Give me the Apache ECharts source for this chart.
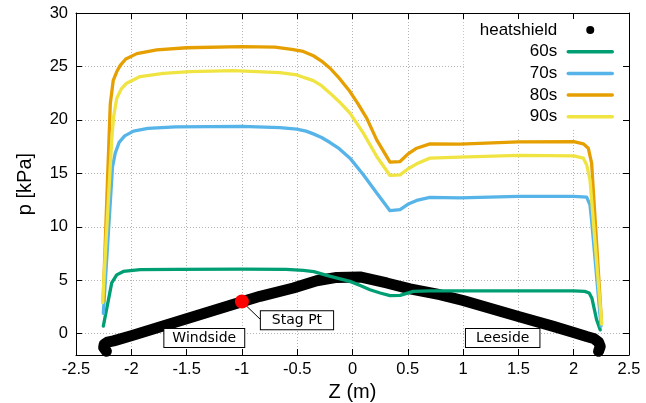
<!DOCTYPE html>
<html><head><meta charset="utf-8">
<script src="https://cdn.jsdelivr.net/npm/echarts@6/dist/echarts.min.js"></script>
<style>html,body{margin:0;padding:0;background:#fff}#c{width:646px;height:403px}</style>
</head><body><div id="c"></div>
<script>
// ---- data ----
const shieldZ = [-2.225, -2.25, -2.245, -2.215, -2.16, -2.0, -1.5, -1.0, -0.836, -0.535, -0.324, -0.143, 0.068, 0.309, 0.52, 0.79, 1.0, 1.5, 1.816, 2.0, 2.117, 2.18, 2.225, 2.24, 2.225];
const shieldP = [-1.65, -1.3, -1.0, -0.8, -0.68, -0.2, 1.4, 2.98, 3.49, 4.27, 4.95, 5.26, 5.3, 4.74, 4.18, 3.64, 3.1, 1.6, 0.68, 0.1, -0.27, -0.45, -0.8, -1.2, -1.65];

const z60 = [-2.253, -2.177, -2.132, -2.072, -1.92, -1.6, -1.0, -0.6, -0.445, -0.35, -0.233, -0.12, -0.023, 0.07, 0.158, 0.25, 0.339, 0.43, 0.55, 0.7, 1.0, 1.5, 2.0, 2.10, 2.14, 2.165, 2.207, 2.24];
const p60 = [0.7, 4.75, 5.5, 5.82, 5.98, 6.02, 6.03, 6.02, 5.92, 5.8, 5.45, 5.15, 4.89, 4.5, 4.11, 3.8, 3.55, 3.58, 3.95, 4.0, 4.0, 4.0, 4.0, 3.95, 3.8, 3.3, 1.3, 0.35];

const z70 = [-2.253, -2.17, -2.145, -2.11, -2.06, -1.98, -1.85, -1.6, -1.0, -0.656, -0.505, -0.42, -0.354, -0.28, -0.203, -0.12, -0.023, 0.098, 0.219, 0.339, 0.43, 0.5, 0.58, 0.70, 0.97, 1.5, 2.0, 2.117, 2.147, 2.162, 2.247];
const p70 = [1.9, 15.6, 16.9, 17.9, 18.5, 18.95, 19.2, 19.35, 19.4, 19.28, 19.13, 18.95, 18.69, 18.35, 17.88, 17.3, 16.42, 14.86, 13.15, 11.5, 11.6, 12.1, 12.46, 12.75, 12.7, 12.85, 12.85, 12.77, 12.06, 10.6, 0.7];

const z80 = [-2.255, -2.19, -2.163, -2.132, -2.10, -2.05, -1.95, -1.77, -1.5, -1.0, -0.7, -0.55, -0.445, -0.354, -0.28, -0.203, -0.12, -0.023, 0.05, 0.128, 0.219, 0.339, 0.43, 0.5, 0.58, 0.70, 0.97, 1.5, 2.0, 2.087, 2.132, 2.162, 2.252];
const p80 = [3.0, 21.5, 23.7, 24.5, 25.1, 25.7, 26.2, 26.55, 26.75, 26.85, 26.8, 26.6, 26.4, 26.0, 25.5, 24.83, 23.9, 22.65, 21.5, 20.16, 18.13, 16.05, 16.1, 16.8, 17.35, 17.76, 17.73, 17.95, 17.97, 17.76, 17.35, 15.95, 1.0];

const z90 = [-2.259, -2.177, -2.16, -2.132, -2.09, -2.042, -1.92, -1.71, -1.47, -1.08, -0.656, -0.505, -0.354, -0.28, -0.203, -0.12, -0.023, 0.098, 0.219, 0.339, 0.43, 0.5, 0.58, 0.70, 0.97, 1.5, 2.0, 2.087, 2.117, 2.147, 2.253];
const p90 = [2.9, 18.1, 20.3, 22.0, 22.9, 23.43, 24.05, 24.36, 24.51, 24.6, 24.42, 24.2, 23.67, 23.2, 22.5, 21.7, 20.63, 18.76, 16.57, 14.8, 14.86, 15.4, 15.89, 16.42, 16.51, 16.67, 16.64, 16.42, 15.8, 14.4, 0.9];

const seriesNames = ['heatshield', '60s', '70s', '80s', '90s'];
const stagPoint = [-1.0, 3.0];
const stagArrowEnd = [-0.835, 1.35];
const labelTexts = ['Windside', 'Leeside', 'Stag Pt'];
const labelZ = [-1.34, 1.358, -0.502];
const labelP = [-0.40, -0.40, 1.26];
const zRange = [-2.5, 2.5];
const pRange = [-2, 30];

// ---- chart ----
const zip = (a, b) => a.map((v, i) => [v, b[i]]);
const FONT = 'Liberation Sans, Arial, sans-serif';
const colors = ['#000000', '#009e73', '#56b4e9', '#e69f00', '#f0e442'];
const lineData = [zip(shieldZ, shieldP), zip(z60, p60), zip(z70, p70), zip(z80, p80), zip(z90, p90)];
const labelPads = [[1, 8, 1, 8], [1, 10, 1, 10], [1, 11, 1, 11]];

const chart = echarts.init(document.getElementById('c'), null, {renderer: 'canvas'});

const series = seriesNames.map((name, i) => ({
  name, type: 'line', data: lineData[i],
  symbol: i === 0 ? 'circle' : 'none', showSymbol: false, symbolSize: 8,
  itemStyle: {color: colors[i]},
  lineStyle: {color: colors[i], width: i === 0 ? 11 : 3.3, cap: 'round', join: 'round'},
  z: 2 + i, silent: true, animation: false
}));

series.push({
  name: 'labels', type: 'scatter', symbolSize: 1, z: 9, silent: true, animation: false,
  itemStyle: {color: 'rgba(0,0,0,0)'},
  data: labelTexts.map((t, i) => ({
    value: [labelZ[i], labelP[i]], name: t,
    label: {
      show: true, position: 'inside', formatter: t, opacity: 1,
      fontFamily: 'DejaVu Sans', fontSize: 14, color: '#000', lineHeight: 16,
      backgroundColor: '#fff', borderColor: '#000', borderWidth: 1, padding: labelPads[i]
    }
  }))
});

series.push({
  name: 'stag', type: 'scatter', data: [stagPoint], symbolSize: 14,
  itemStyle: {color: '#ff0000', opacity: 1}, z: 10, silent: true, animation: false,
  markLine: {
    silent: true, animation: false, symbol: ['none', 'arrow'], symbolSize: [0, 9],
    lineStyle: {color: '#000', width: 1, type: 'solid'},
    label: {show: false},
    data: [[{coord: stagPoint}, {coord: stagArrowEnd}]]
  }
});

const axisText = {fontFamily: FONT, fontSize: 16.5, color: '#000'};

chart.setOption({
  animation: false,
  backgroundColor: '#fff',
  grid: {left: 76, right: 17, top: 13, bottom: 48, containLabel: false, outerBoundsMode: 'none'},
  legend: {
    orient: 'vertical', align: 'right', right: 17, top: 13,
    padding: [8.5, 15, 3, 16], backgroundColor: '#fff',
    itemWidth: 44, itemHeight: 10, itemGap: 4.7, selectedMode: false,
    textStyle: {fontFamily: FONT, fontSize: 17, color: '#000', lineHeight: 17, padding: [0, 6, 0, 0]},
    data: seriesNames.map((n, i) => i === 0
      ? {name: n, lineStyle: {opacity: 0, width: 0}}
      : {name: n, itemStyle: {opacity: 0}, lineStyle: {width: 3.5}})
  },
  xAxis: [
    {type: 'value', min: zRange[0], max: zRange[1], interval: 0.5, position: 'bottom',
     name: 'Z (m)', nameLocation: 'middle', nameGap: 22,
     nameTextStyle: {fontFamily: FONT, fontSize: 20, color: '#000'},
     axisLine: {show: true, onZero: false, lineStyle: {color: '#000', width: 1}},
     axisTick: {show: true, inside: true, length: 6, lineStyle: {color: '#000'}},
     axisLabel: Object.assign({margin: 6}, axisText),
     splitLine: {show: true, lineStyle: {color: '#b4b4b4', width: 1, type: [1, 2]}}},
    {type: 'value', min: zRange[0], max: zRange[1], interval: 0.5, position: 'top', z: 6,
     axisLine: {show: true, onZero: false, lineStyle: {color: '#000', width: 1}},
     axisTick: {show: true, inside: true, length: 6, lineStyle: {color: '#000'}},
     axisLabel: {show: false}, splitLine: {show: false}}
  ],
  yAxis: [
    {type: 'value', min: pRange[0], max: pRange[1], minInterval: 5, maxInterval: 5, position: 'left',
     name: 'p [kPa]', nameLocation: 'middle', nameGap: 41, nameRotate: 90,
     nameTextStyle: {fontFamily: FONT, fontSize: 20, color: '#000'},
     axisLine: {show: true, onZero: false, lineStyle: {color: '#000', width: 1}},
     axisTick: {show: true, inside: true, length: 6, lineStyle: {color: '#000'}},
     axisLabel: Object.assign({margin: 8, showMinLabel: false,
       formatter: v => (v === pRange[0] ? '' : String(v))}, axisText),
     splitLine: {show: true, lineStyle: {color: '#b4b4b4', width: 1, type: [1, 2]}}},
    {type: 'value', min: pRange[0], max: pRange[1], minInterval: 5, maxInterval: 5, position: 'right', z: 6,
     axisLine: {show: true, onZero: false, lineStyle: {color: '#000', width: 1}},
     axisTick: {show: true, inside: true, length: 6, lineStyle: {color: '#000'}},
     axisLabel: {show: false}, splitLine: {show: false}}
  ],
  series
});
</script>
</body></html>
